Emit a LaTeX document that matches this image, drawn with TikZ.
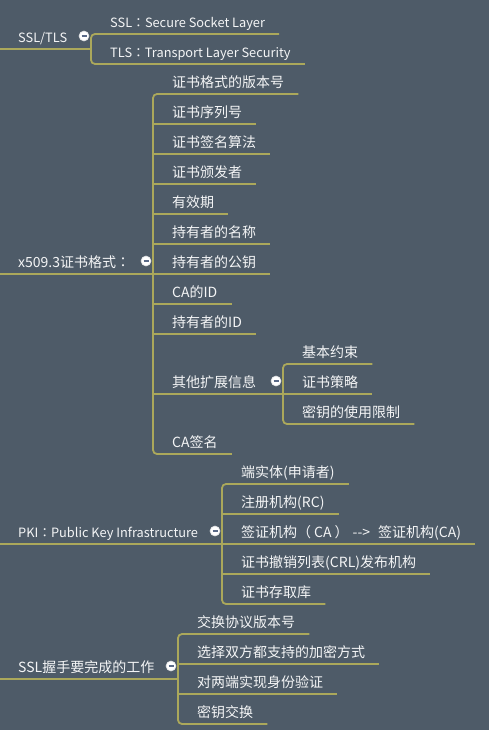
\documentclass[tikz,border=0pt]{standalone}
\usepackage{fontspec}
\setmainfont{Noto Sans CJK SC}
\newfontfamily\tcfont{Noto Sans CJK TC}
\usetikzlibrary{calc}

\definecolor{bgslate}{HTML}{4E5B68}
\definecolor{branchcol}{HTML}{ABA85B}
\definecolor{foldmark}{HTML}{5A6A88}
\newcommand{\foldminus}{\textcolor{foldmark}{\rule[-0.7pt]{5pt}{1.4pt}}}
\newcommand{\eng}[1]{{\fontsize{12.8}{16}\selectfont #1}}
\newcommand{\fwcolon}{{\tcfont ：}}

\begin{document}
\begin{tikzpicture}[x=1pt,y=1pt,
    branch/.style={draw=branchcol,line width=1.8pt},
    topic/.style={anchor=south west,inner xsep=0pt,inner ysep=6pt,text depth=0pt,
        text=white!94!bgslate,font=\fontsize{14}{16}\selectfont},
    fold/.style={circle,draw=white!80!bgslate,fill=white,inner sep=0pt,
        minimum size=10pt,line width=0.6pt}]
        \fill [bgslate] (0,0) rectangle (489,-730);
        \useasboundingbox (0,0) rectangle (489,-730);

        % SSL/TLS
        \draw node [topic] (S00) at (18,-49) {\eng{SSL/TLS}};
        \coordinate (Sj) at (91,-49);
        \draw node [fold] (Sf) at (84,-36) {\foldminus};
        \draw node [topic] (S01) at (110,-34) {\eng{SSL\fwcolon Secure Socket Layer}};
        \draw node [topic] (S02) at (110,-64) {\eng{TLS\fwcolon Transport Layer Security}};
        \draw [branch] ([xshift=-18pt]S00.south west) -- (Sj);
        \draw [branch,rounded corners=4pt]
        ([xshift=14pt]S01.south east) -- (S01.south -| Sj)
            -- (S02.south -| Sj) -- ([xshift=14pt]S02.south east);

        % x509.3
        \draw node [topic] (X00) at (18,-274) {x509.3证书格式\fwcolon};
        \coordinate (Xj) at (153,-274);
        \draw node [fold] (Xf) at (146,-261) {\foldminus};
        \draw node [topic] (X01) at (172,-94) {证书格式的版本号};
        \draw node [topic] (X02) at (172,-124) {证书序列号};
        \draw node [topic] (X03) at (172,-154) {证书签名算法};
        \draw node [topic] (X04) at (172,-184) {证书颁发者};
        \draw node [topic] (X05) at (172,-214) {有效期};
        \draw node [topic] (X06) at (172,-244) {持有者的名称};
        \draw node [topic] (X07) at (172,-274) {持有者的公钥};
        \draw node [topic] (X08) at (172,-304) {CA的ID};
        \draw node [topic] (X09) at (172,-334) {持有者的ID};
        \draw node [topic] (X10) at (172,-394) {其他扩展信息};
        \draw node [topic] (X11) at (172,-454) {CA签名};
        \draw [branch] ([xshift=-18pt]X00.south west) -- (Xj);
        \draw [branch,rounded corners=4pt]
        ([xshift=14pt]X01.south east) -- (X01.south -| Xj)
            -- (X11.south -| Xj) -- ([xshift=14pt]X11.south east);
        \draw [branch] (X02.south -| Xj) -- ([xshift=14pt]X02.south east);
        \draw [branch] (X03.south -| Xj) -- ([xshift=14pt]X03.south east);
        \draw [branch] (X04.south -| Xj) -- ([xshift=14pt]X04.south east);
        \draw [branch] (X05.south -| Xj) -- ([xshift=14pt]X05.south east);
        \draw [branch] (X06.south -| Xj) -- ([xshift=14pt]X06.south east);
        \draw [branch] (X07.south -| Xj) -- ([xshift=14pt]X07.south east);
        \draw [branch] (X08.south -| Xj) -- ([xshift=14pt]X08.south east);
        \draw [branch] (X09.south -| Xj) -- ([xshift=14pt]X09.south east);

        % extensions
        \coordinate (Ej) at (283,-394);
        \draw node [fold] (Ef) at (276,-381) {\foldminus};
        \draw node [topic] (E01) at (302,-364) {基本约束};
        \draw node [topic] (E02) at (302,-394) {证书策略};
        \draw node [topic] (E03) at (302,-424) {密钥的使用限制};
        \draw [branch] (X10.south -| Xj) -- (Ej);
        \draw [branch,rounded corners=4pt]
        ([xshift=14pt]E01.south east) -- (E01.south -| Ej)
            -- (E03.south -| Ej) -- ([xshift=14pt]E03.south east);
        \draw [branch] (Ej) -- ([xshift=14pt]E02.south east);

        % PKI
        \draw node [topic] (P00) at (18,-544) {\eng{PKI\fwcolon Public Key Infrastructure}};
        \coordinate (Pj) at (222,-544);
        \draw node [fold] (Pf) at (215,-531) {\foldminus};
        \draw node [topic] (P01) at (241,-484) {端实体(申请者)};
        \draw node [topic] (P02) at (241,-514) {注册机构(RC)};
        \draw node [topic] (P03) at (241,-544)
            {签证机构（\hspace{3pt}CA\hspace{3pt}）\hspace{4pt}-{}-{}>\hspace{8pt}签证机构(CA)};
        \draw node [topic] (P04) at (241,-574) {证书撤销列表(CRL)发布机构};
        \draw node [topic] (P05) at (241,-604) {证书存取库};
        \draw [branch] ([xshift=-18pt]P00.south west) -- (Pj);
        \draw [branch,rounded corners=4pt]
        ([xshift=14pt]P01.south east) -- (P01.south -| Pj)
            -- (P05.south -| Pj) -- ([xshift=14pt]P05.south east);
        \draw [branch] (P02.south -| Pj) -- ([xshift=14pt]P02.south east);
        \draw [branch] (P03.south -| Pj) -- ([xshift=14pt]P03.south east);
        \draw [branch] (P04.south -| Pj) -- ([xshift=14pt]P04.south east);

        % handshake
        \draw node [topic] (H00) at (18,-679) {SSL握手要完成的工作};
        \coordinate (Hj) at (178,-679);
        \draw node [fold] (Hf) at (171,-666) {\foldminus};
        \draw node [topic] (H01) at (197,-634) {交换协议版本号};
        \draw node [topic] (H02) at (197,-664) {选择双方都支持的加密方式};
        \draw node [topic] (H03) at (197,-694) {对两端实现身份验证};
        \draw node [topic] (H04) at (197,-724) {密钥交换};
        \draw [branch] ([xshift=-18pt]H00.south west) -- (Hj);
        \draw [branch,rounded corners=4pt]
        ([xshift=14pt]H01.south east) -- (H01.south -| Hj)
            -- (H04.south -| Hj) -- ([xshift=14pt]H04.south east);
        \draw [branch] (H02.south -| Hj) -- ([xshift=14pt]H02.south east);
        \draw [branch] (H03.south -| Hj) -- ([xshift=14pt]H03.south east);
    \end{tikzpicture}
\end{document}
